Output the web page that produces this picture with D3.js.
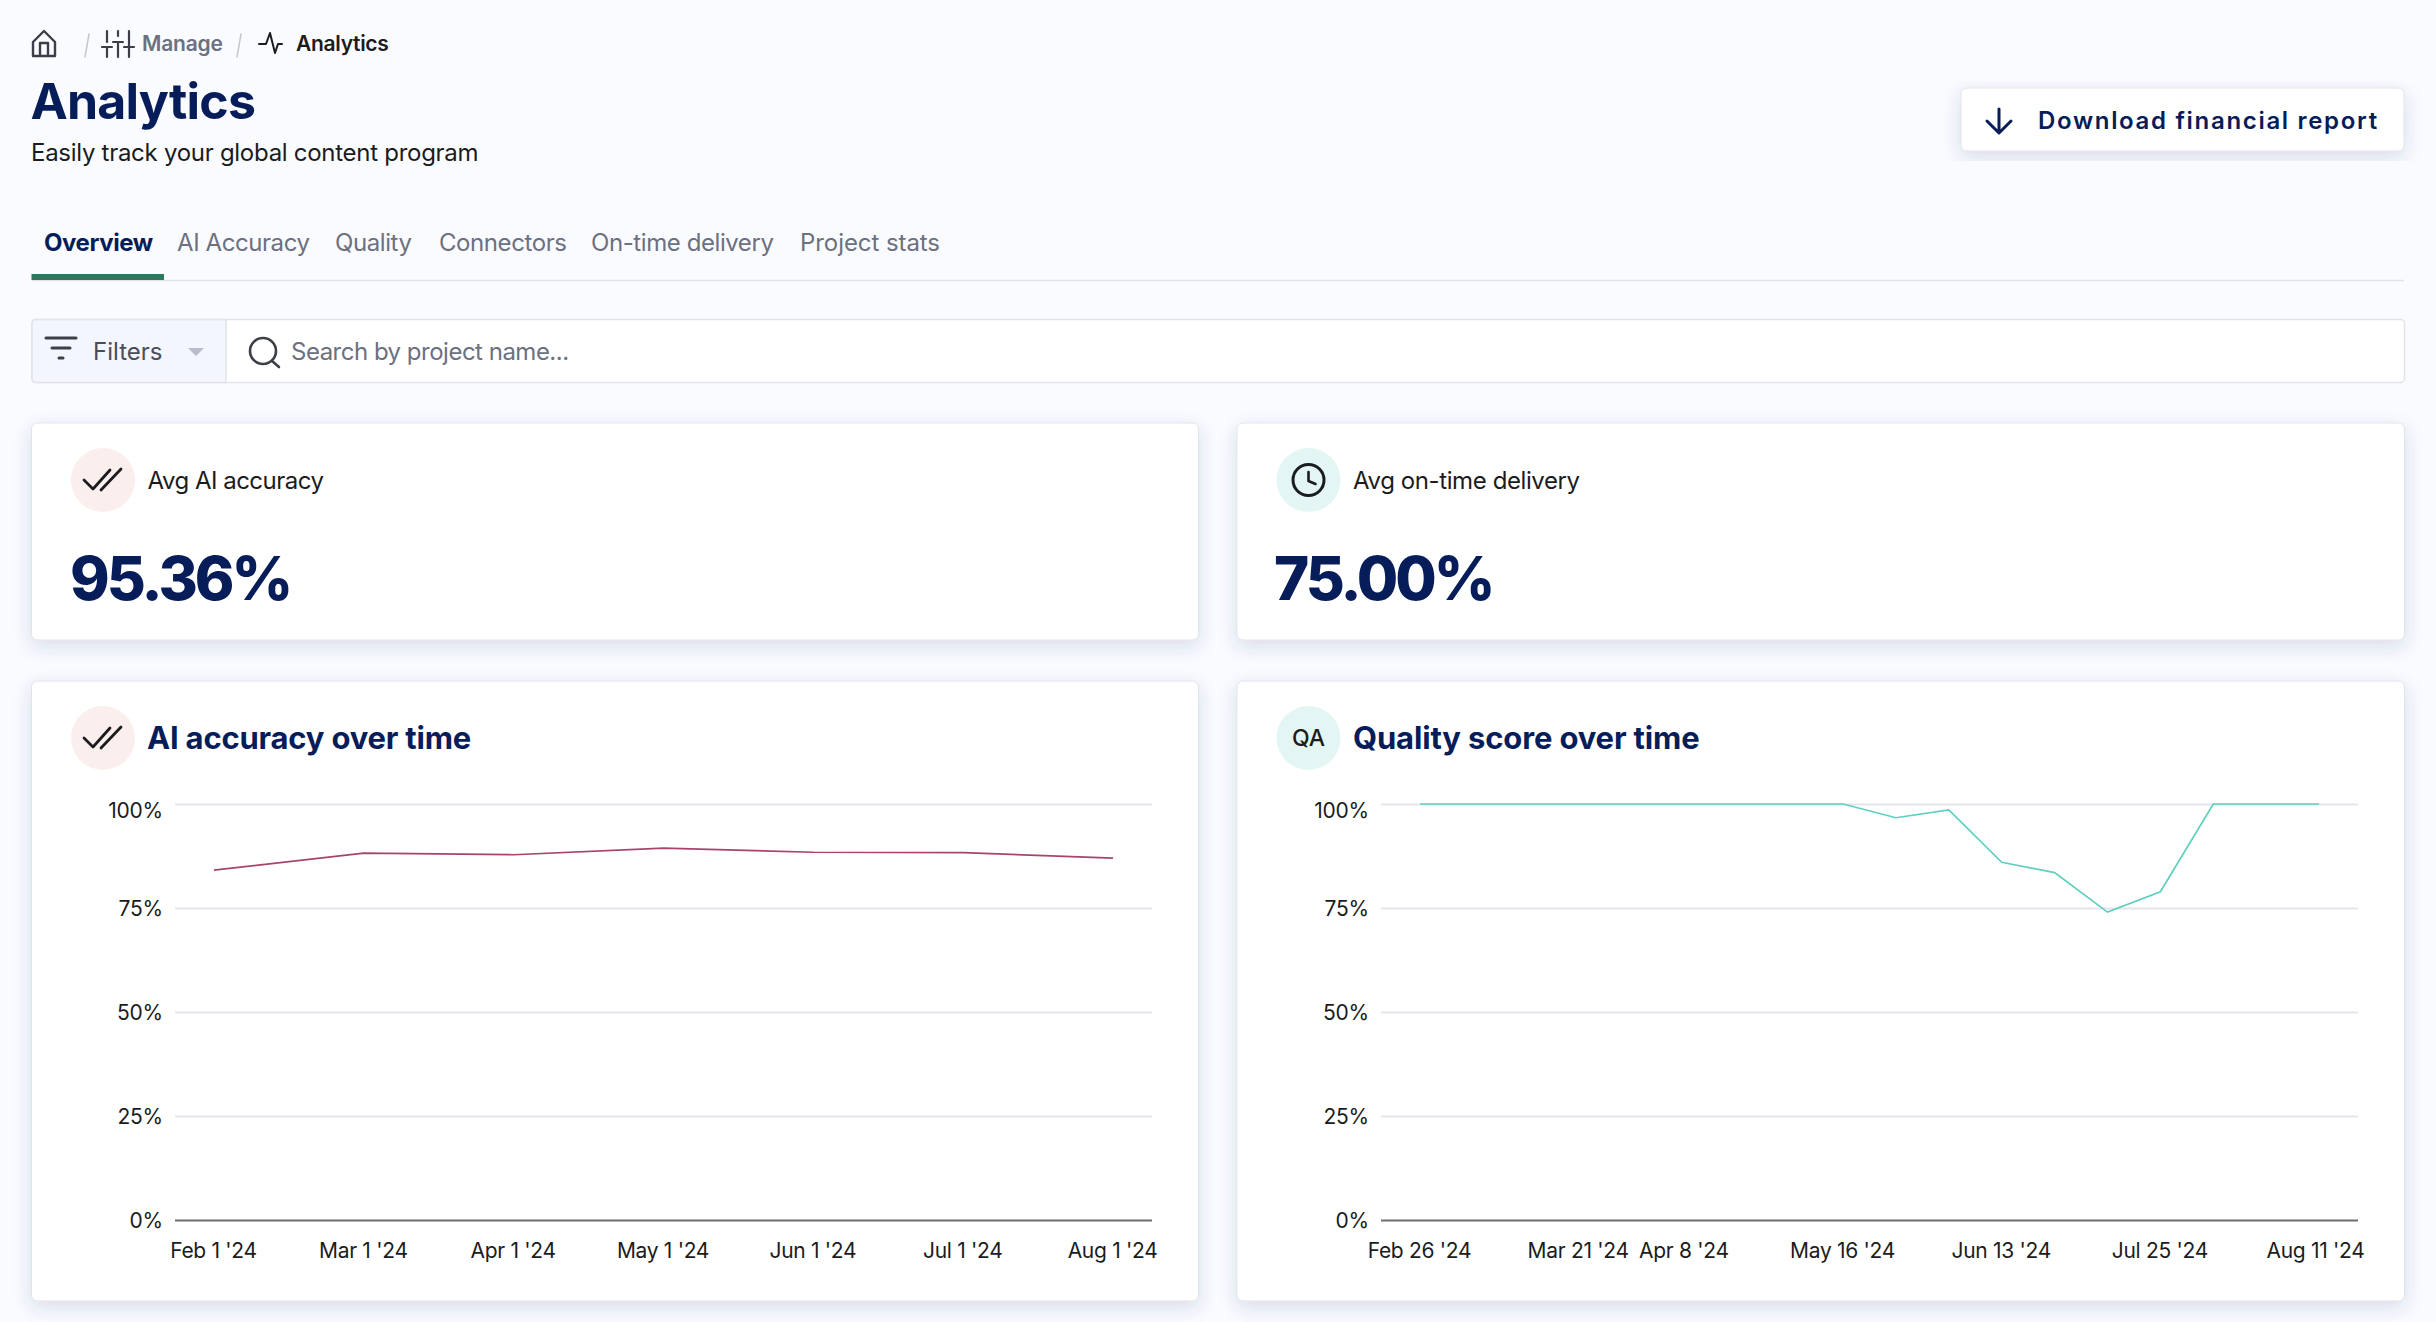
<!DOCTYPE html>
<html>
<head>
<meta charset="utf-8">
<script src="https://cdn.jsdelivr.net/npm/d3@7"></script>
<style>
html, body { margin: 0; padding: 0; background: #fafbff; overflow: hidden; }
text { font-family: Inter, "Noto Sans", sans-serif; }
</style>
</head>
<body>
<svg id="page"></svg>
<script>
var WIDTH = 2436;
var HEIGHT = 1322;

var NAVY = "#071d59";
var INK = "#1b1c20";
var MUTED = "#6c7080";

var tabs = ["Overview", "AI Accuracy", "Quality", "Connectors", "On-time delivery", "Project stats"];
var tabStarts = [44, 177, 335, 439, 591, 800];

var percentTicks = [0, 25, 50, 75, 100];

var accuracyDates = ["Feb 1 '24", "Mar 1 '24", "Apr 1 '24", "May 1 '24", "Jun 1 '24", "Jul 1 '24", "Aug 1 '24"];
var accuracyValues = [84.1, 88.2, 87.8, 89.4, 88.4, 88.3, 87.0];

var qualityDates = ["Feb 26 '24", "Mar 4 '24", "Mar 11 '24", "Mar 21 '24", "Mar 28 '24", "Apr 8 '24",
    "Apr 15 '24", "Apr 22 '24", "May 16 '24", "May 23 '24", "Jun 3 '24", "Jun 13 '24",
    "Jun 20 '24", "Jul 1 '24", "Jul 25 '24", "Jul 29 '24", "Aug 5 '24", "Aug 11 '24"];
var qualityValues = [100, 100, 100, 100, 100, 100, 100, 100, 100, 96.7, 98.6, 86.0, 83.5, 74.0, 78.9, 100, 100, 100];
var qualityTicks = ["Feb 26 '24", "Mar 21 '24", "Apr 8 '24", "May 16 '24", "Jun 13 '24", "Jul 25 '24", "Aug 11 '24"];

var svg = d3.select("#page")
    .attr("width", WIDTH)
    .attr("height", HEIGHT)
    .attr("viewBox", "0 0 " + WIDTH + " " + HEIGHT);

var defs = svg.append("defs");
var shadow = defs.append("filter").attr("id", "shadow")
    .attr("x", "-5%").attr("y", "-10%").attr("width", "110%").attr("height", "125%");
shadow.append("feDropShadow")
    .attr("dx", 0).attr("dy", 6).attr("stdDeviation", 9)
    .attr("flood-color", "#2a3a70").attr("flood-opacity", 0.16);

function label(parent, x, y, str, size, weight, color, spacing) {
    return parent.append("text")
        .attr("x", x)
        .attr("y", y)
        .attr("font-size", size)
        .attr("font-weight", weight)
        .attr("fill", color)
        .attr("letter-spacing", spacing || 0)
        .text(str);
}

function stroked(parent, d, color, width) {
    return parent.append("path")
        .attr("d", d)
        .attr("fill", "none")
        .attr("stroke", color)
        .attr("stroke-width", width)
        .attr("stroke-linecap", "round")
        .attr("stroke-linejoin", "round");
}

function card(x, y, w, h) {
    svg.append("rect")
        .attr("x", x).attr("y", y).attr("width", w).attr("height", h)
        .attr("rx", 6)
        .attr("fill", "#ffffff")
        .attr("stroke", "#e2e3ea")
        .attr("stroke-width", 1)
        .attr("filter", "url(#shadow)");
}

function checkBadge(cx, cy) {
    var g = svg.append("g").attr("transform", "translate(" + cx + "," + cy + ")");
    g.append("circle").attr("r", 32).attr("fill", "#fbefed");
    stroked(g, "M-19,0 L-10,9 L7,-10", INK, 2.8);
    stroked(g, "M-2,10 L18,-11", INK, 2.8);
}

function clockBadge(cx, cy) {
    var g = svg.append("g").attr("transform", "translate(" + cx + "," + cy + ")");
    g.append("circle").attr("r", 32).attr("fill", "#e3f6f3");
    g.append("circle").attr("r", 15.5).attr("fill", "none").attr("stroke", INK).attr("stroke-width", 3);
    stroked(g, "M0,-8 L0,1 L7,4", INK, 2.6);
}

function qaBadge(cx, cy) {
    var g = svg.append("g").attr("transform", "translate(" + cx + "," + cy + ")");
    g.append("circle").attr("r", 32).attr("fill", "#e3f6f3");
    label(g, 0, 8, "QA", 23, 500, INK).attr("text-anchor", "middle");
}

// header
var home = svg.append("g").attr("transform", "translate(32,30)");
stroked(home, "M1,12 L12,1 L23,12 L23,26 L1,26 Z M8,26 L8,13 L16,13 L16,26", "#3c3f48", 2.4);
stroked(svg, "M89,34 L85,57", "#c8cad2", 1.6);
stroked(svg, "M241,34 L237,57", "#c8cad2", 1.6);

var sliders = svg.append("g").attr("transform", "translate(103,31)");
stroked(sliders, "M4,0 L4,11 M-1,16 L9,16 M4,16 L4,26 M15,0 L15,5 M10,11 L20,11 M15,11 L15,26 M26,0 L26,15 M21,16 L31,16 M26,16 L26,26", "#3c3f48", 2.2);
label(svg, 142, 51, "Manage", 21, 600, MUTED, -0.2);
stroked(svg, "M259,44 L266,44 L270,33 L275,53 L278,44 L282,44", INK, 2);
label(svg, 296, 51, "Analytics", 21, 600, INK, -0.3);

label(svg, 30.5, 119, "Analytics", 50, 700, NAVY, -0.8);
label(svg, 31, 161, "Easily track your global content program", 24, 400, INK, -0.28);

// download button
svg.append("rect")
    .attr("x", 1961).attr("y", 88).attr("width", 443).attr("height", 63)
    .attr("rx", 6).attr("fill", "#ffffff")
    .attr("stroke", "#e2e3ea")
    .attr("filter", "url(#shadow)");
stroked(svg, "M1999,109 L1999,132 M1987,121 L1999,133 L2011,121", NAVY, 3);
label(svg, 2038, 129, "Download financial report", 24, 600, NAVY, 1.68);

// tabs
svg.selectAll("text.tab")
    .data(tabs)
    .enter()
    .append("text")
    .attr("class", "tab")
    .attr("x", function(d, i) { return tabStarts[i]; })
    .attr("y", 251)
    .attr("font-size", 24)
    .attr("letter-spacing", function(d, i) { return i == 5 ? -0.07 : -0.42; })
    .attr("font-weight", function(d, i) { return i == 0 ? 700 : 400; })
    .attr("fill", function(d, i) { return i == 0 ? NAVY : MUTED; })
    .text(function(d) { return d; });
svg.append("line")
    .attr("x1", 32).attr("x2", 2404).attr("y1", 280.5).attr("y2", 280.5)
    .attr("stroke", "#e2e4ea").attr("stroke-width", 1.5);
svg.append("rect")
    .attr("x", 31.5).attr("y", 274).attr("width", 132.5).attr("height", 6)
    .attr("fill", "#2a7a5e");

// filter bar
svg.append("rect")
    .attr("x", 32).attr("y", 319.5).attr("width", 2372.5).attr("height", 63)
    .attr("rx", 4).attr("fill", "#ffffff").attr("stroke", "#e2e4ea").attr("stroke-width", 1.5);
svg.append("path")
    .attr("d", "M36,319.5 L226,319.5 L226,382.5 L36,382.5 Q32,382.5 32,378.5 L32,323.5 Q32,319.5 36,319.5 Z")
    .attr("fill", "#f3f6fe").attr("stroke", "#e2e4ea").attr("stroke-width", 1.5);
stroked(svg, "M46,338 L76,338", "#3c3f48", 3);
stroked(svg, "M52,348 L70,348", "#3c3f48", 3);
stroked(svg, "M59,358 L63,358", "#3c3f48", 3);
label(svg, 93, 360, "Filters", 24, 400, "#4a4d58");
svg.append("path").attr("d", "M188,348 L204,348 L196,356 Z").attr("fill", "#b9bccb");
svg.append("circle").attr("cx", 263).attr("cy", 351).attr("r", 13)
    .attr("fill", "none").attr("stroke", "#3c3f48").attr("stroke-width", 2.6);
stroked(svg, "M272,361 L279,367", "#3c3f48", 2.6);
label(svg, 291, 360, "Search by project name...", 24, 400, MUTED, -0.5);

// stat cards
card(31.5, 423, 1167, 217);
card(1237, 423, 1167.5, 217);
checkBadge(103, 480);
clockBadge(1308.5, 480);
label(svg, 147.5, 489, "Avg AI accuracy", 24, 400, INK, -0.5);
label(svg, 1353, 489, "Avg on-time delivery", 24, 400, INK, -0.4);
label(svg, 70, 600, "95.36%", 60, 800, NAVY, -3);
label(svg, 1274, 600, "75.00%", 60, 800, NAVY, -3);

// chart cards
card(31.5, 681, 1167, 620);
card(1237, 681, 1167.5, 620);
checkBadge(103, 738);
qaBadge(1308.5, 738);
label(svg, 147, 749, "AI accuracy over time", 31, 700, NAVY, -0.2);
label(svg, 1353, 749, "Quality score over time", 31, 700, NAVY, -0.15);

function drawChart(left, dates, values, tickDates, padding, color) {
    var right = left + 977;
    var top = 804;
    var bottom = 1220;

    var x = d3.scalePoint().domain(dates).range([left, right]).padding(padding);
    var y = d3.scaleLinear().domain([0, 100]).range([bottom, top]);

    var yAxis = svg.append("g")
        .attr("transform", "translate(" + left + ",0)")
        .call(d3.axisLeft(y)
            .tickValues(percentTicks)
            .tickSize(-(right - left))
            .tickPadding(12)
            .tickFormat(function(d) { return d + "%"; }));
    yAxis.select(".domain").remove();
    yAxis.selectAll(".tick line")
        .attr("stroke", function(d) { return d == 0 ? "#6e6e70" : "#e4e5ec"; })
        .attr("stroke-width", 2);
    yAxis.selectAll(".tick text")
        .attr("dy", function(d) { return d == 100 ? "0.66em" : "0.35em"; })
        .attr("fill", INK)
        .attr("font-size", 21)
        .attr("letter-spacing", -0.2)
        .attr("font-family", "Inter");

    var xAxis = svg.append("g")
        .attr("transform", "translate(0," + bottom + ")")
        .call(d3.axisBottom(x)
            .tickValues(tickDates)
            .tickSize(0)
            .tickPadding(23));
    xAxis.select(".domain").remove();
    xAxis.selectAll(".tick text")
        .attr("fill", INK)
        .attr("font-size", 21)
        .attr("letter-spacing", -0.3)
        .attr("dx", -1)
        .attr("font-family", "Inter");

    var line = d3.line()
        .x(function(d, i) { return x(dates[i]); })
        .y(function(d) { return y(d); });

    svg.append("path")
        .datum(values)
        .attr("d", line)
        .attr("fill", "none")
        .attr("stroke", color)
        .attr("stroke-width", 1.7);

    return xAxis;
}

drawChart(175, accuracyDates, accuracyValues, accuracyDates, 0.26, "#a8446c");
var qualityAxis = drawChart(1381, qualityDates, qualityValues, qualityTicks, 0.737, "#5ecfc0");
qualityAxis.selectAll(".tick text")
    .attr("dx", function(d) { return d == "Aug 11 '24" ? -4 : -1; });
</script>
</body>
</html>
